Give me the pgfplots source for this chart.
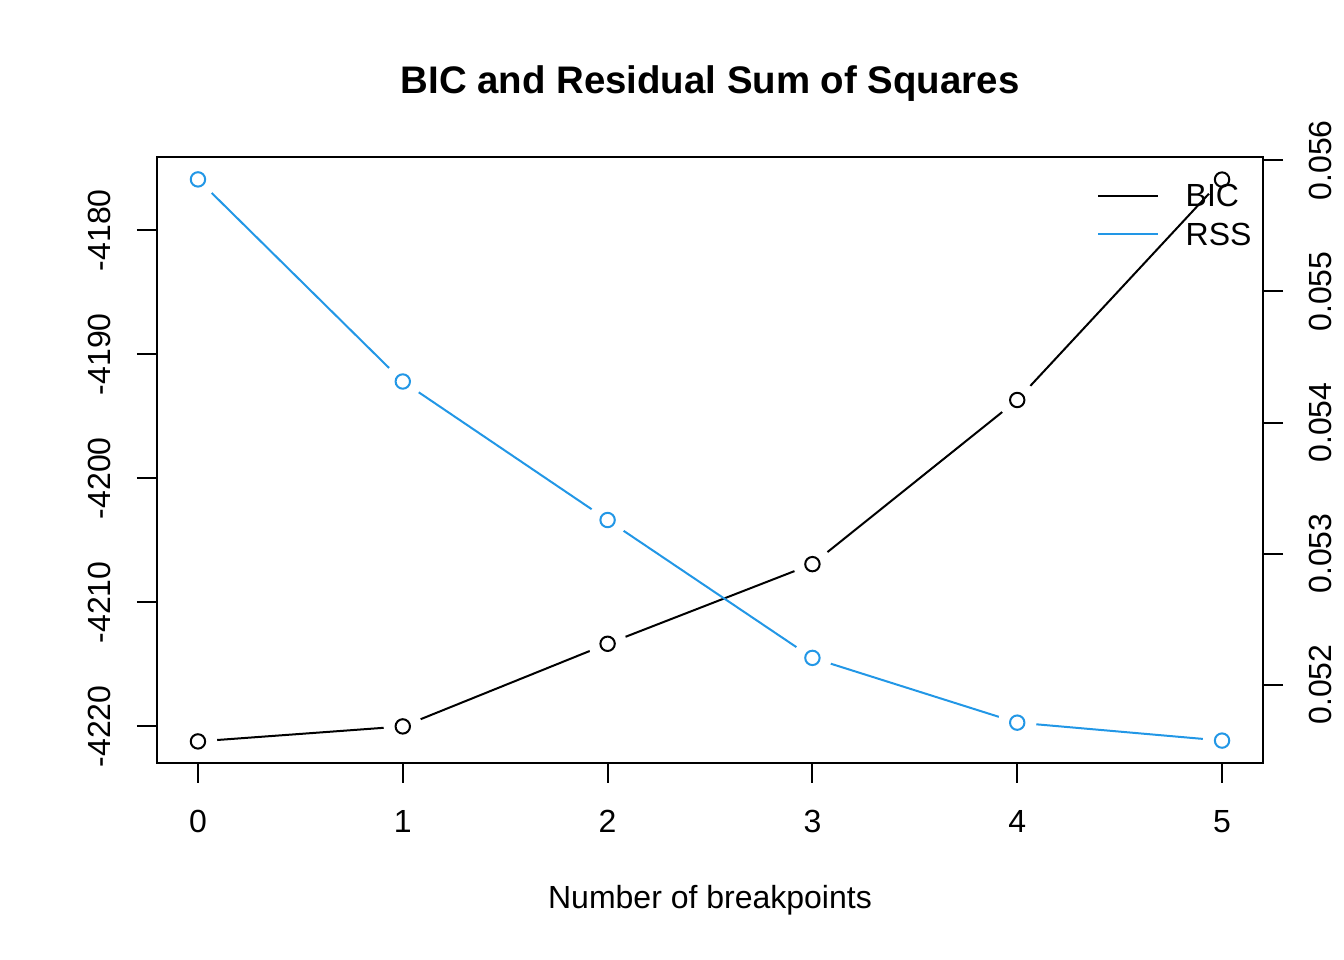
\documentclass[border=0pt]{standalone}
\usepackage{pgfplots}
\usepackage{pgfplotstable}
\pgfplotsset{compat=1.18}
\usepackage{fontspec}
\setmainfont{Liberation Sans}
\definecolor{rblue}{RGB}{34,151,230}
\pgfplotstableread{
x bic
0 -4221.21
1 -4220.00
2 -4213.34
3 -4206.92
4 -4193.69
5 -4175.92
}\bictab
\pgfplotstableread{
x rss
0 0.055855
1 0.054313
2 0.053256
3 0.052204
4 0.051710
5 0.051573
}\rsstab
\begin{document}
\fontsize{12bp}{14.4bp}\selectfont
\begin{tikzpicture}
\path[use as bounding box] (-58.875bp,-73.875bp) rectangle (445.125bp,286.125bp);
\pgfplotsset{
  rbase/.style={
    at={(0,0)}, anchor=south west, scale only axis,
    width=414.75bp, height=227.25bp,
    xmin=-0.2, xmax=5.2,
    axis line style={line width=0.75bp, black},
    tick style={line width=0.75bp, black},
    tick align=outside, major tick length=7.5bp,
    scaled y ticks=false, scaled x ticks=false,
    /pgf/number format/assume math mode=true,
    font=\fontsize{12bp}{14.4bp}\selectfont,
  },
  gapdisk/.style={only marks, mark=*, mark size=7bp, mark options={draw=white, fill=white}, forget plot},
}
\begin{axis}[rbase,
  ymin=-4222.95, ymax=-4174.1,
  xtick={0,1,2,3,4,5}, xticklabels={0,1,2,3,4,5},
  xtick pos=bottom, ytick pos=left,
  ytick={-4220,-4210,-4200,-4190,-4180},
  yticklabels={-4220,-4210,-4200,-4190,-4180},
  yticklabel style={xshift=-9.5bp, rotate=90, anchor=south, inner sep=0pt},
  xticklabel style={yshift=-10bp, anchor=north, inner sep=0pt},
  xlabel={Number of breakpoints},
  xlabel style={at={(axis description cs:0.5,-0.2409)}, anchor=base, inner sep=0pt},
  title={\fontsize{14.4bp}{17bp}\selectfont\bfseries BIC and Residual Sum of Squares},
  title style={at={(axis description cs:0.5,1.0783)}, anchor=base, inner sep=0pt},
]
\addplot[black, line width=0.75bp, forget plot] table[x=x,y=bic]{\bictab};
\addplot[gapdisk] table[x=x,y=bic]{\bictab};
\addplot[only marks, mark=o, mark size=2.7bp, mark options={black, line width=0.75bp}, forget plot] table[x=x,y=bic]{\bictab};
\end{axis}
\begin{axis}[rbase,
  hide x axis, axis y line*=right,
  ymin=0.051402, ymax=0.056026,
  ytick={0.052,0.053,0.054,0.055,0.056},
  yticklabels={0.052,0.053,0.054,0.055,0.056},
  yticklabel style={xshift=9.5bp, rotate=90, anchor=north, inner sep=0pt},
  legend image code/.code={\draw[#1] (0bp,0bp) -- (22.5bp,0bp);},
  legend cell align=left,
  legend style={draw=none, fill=none, inner sep=0pt, outer sep=0pt,
    at={(axis description cs:0.8499,0.9546)}, anchor=north west,
    nodes={inner sep=0pt, text depth=0pt},
    column sep=10.0bp, row sep=6bp,
    font=\fontsize{12bp}{14.4bp}\selectfont},
]
\addlegendimage{black, line width=0.75bp}
\addlegendentry{BIC}
\addplot[rblue, line width=0.75bp] table[x=x,y=rss]{\rsstab};
\addlegendentry{RSS}
\addplot[gapdisk] table[x=x,y=rss]{\rsstab};
\addplot[only marks, mark=o, mark size=2.7bp, mark options={rblue, line width=0.75bp}, forget plot] table[x=x,y=rss]{\rsstab};
\end{axis}
\end{tikzpicture}
\end{document}
